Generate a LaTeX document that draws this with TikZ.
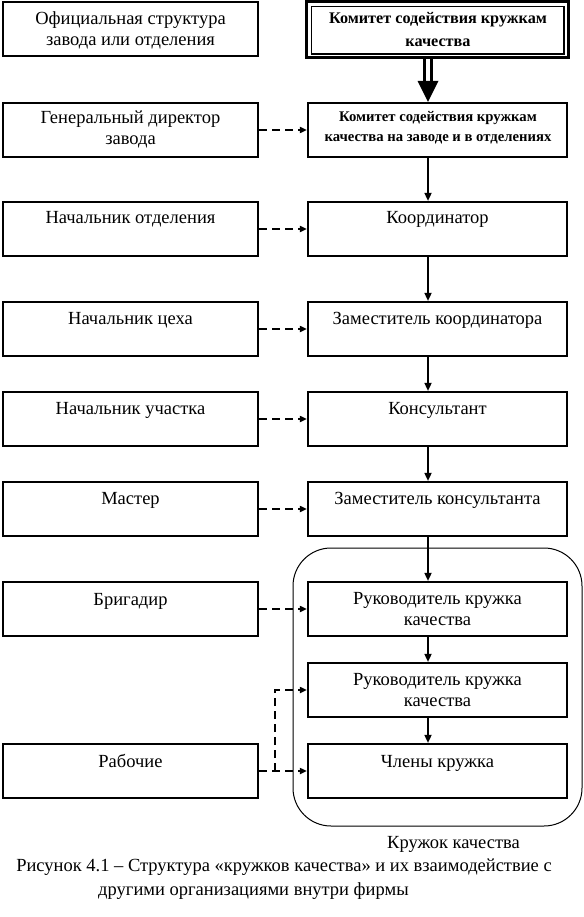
\documentclass[tikz,border=0pt]{standalone}
\usepackage{fontspec}
\setmainfont{Liberation Serif}
\usetikzlibrary{arrows.meta,calc}
\begin{document}
\begin{tikzpicture}[x=1pt,y=-1pt,
  lbox/.style={draw, line width=2.2pt, minimum width=255pt, minimum height=54pt, inner sep=0pt},
  rbox/.style={draw, line width=2.2pt, minimum width=259pt, minimum height=54pt, inner sep=0pt},
  txt/.style={anchor=base, inner sep=0pt, font=\fontsize{18.5}{21}\selectfont},
  btxtA/.style={anchor=base, inner sep=0pt, font=\fontsize{16.2}{20}\selectfont\bfseries},
  btxtB/.style={anchor=base, inner sep=0pt, font=\fontsize{14.7}{20}\selectfont\bfseries},
  sarrow/.style={line width=1.6pt, -{Triangle[length=8pt,width=7pt]}},
  darrow/.style={line width=2pt, dash pattern=on 8pt off 5pt, -{Triangle[length=7pt,width=6pt]}},
  shaft/.style={line width=2.6pt}
]
\useasboundingbox (0,0) rectangle (583,917);

% ---- left column (official structure) ----
\node[lbox] (l1) at (130.5,29) {};
\node[lbox] (l2) at (130.5,130) {};
\node[lbox] (l3) at (130.5,229) {};
\node[lbox] (l4) at (130.5,329) {};
\node[lbox] (l5) at (130.5,419) {};
\node[lbox] (l6) at (130.5,509) {};
\node[lbox] (l7) at (130.5,609) {};
\node[lbox] (l9) at (130.5,771) {};

\node[txt] (t1a) at (130.5,25) {Официальная структура};
\node[txt] (t1b) at (130.5,46) {завода или отделения};
\node[txt] (t2a) at (130.5,124) {Генеральный директор};
\node[txt] (t2b) at (130.5,145) {завода};
\node[txt] (t3) at (130.5,224) {Начальник отделения};
\node[txt] (t4) at (130.5,324) {Начальник цеха};
\node[txt] (t5) at (130.5,414) {Начальник участка};
\node[txt] (t6) at (130.5,504) {Мастер};
\node[txt] (t7) at (130.5,605) {Бригадир};
\node[txt] (t9) at (130.5,767) {Рабочие};

% ---- right column (quality circles) ----
\node[draw, line width=3pt, minimum width=262pt, minimum height=56.5pt, inner sep=0pt] (rout) at (437.5,29.75) {};
\node[draw, line width=1.5pt, minimum width=252.5pt, minimum height=47.5pt, inner sep=0pt] (rin) at (437.75,30.25) {};
\node[btxtA] (c1a) at (438,24) {Комитет содействия кружкам};
\node[btxtA] (c1b) at (438,46.5) {качества};

\node[rbox] (r2) at (437.5,130) {};
\node[btxtB] (c2a) at (438,122) {Комитет содействия кружкам};
\node[btxtB] (c2b) at (438,142) {качества на заводе и в отделениях};

\node[rbox] (r3) at (437.5,229) {};
\node[rbox] (r4) at (437.5,329) {};
\node[rbox] (r5) at (437.5,419) {};
\node[rbox] (r6) at (437.5,509) {};
\node[rbox] (r7) at (437.5,609) {};
\node[rbox] (r8) at (437.5,690) {};
\node[rbox] (r9) at (437.5,771) {};

\node[txt] (s3) at (437.5,224) {Координатор};
\node[txt] (s4) at (437.5,324) {Заместитель координатора};
\node[txt] (s5) at (437.5,414) {Консультант};
\node[txt] (s6) at (437.5,504) {Заместитель консультанта};
\node[txt] (s7a) at (437.5,604) {Руководитель кружка};
\node[txt] (s7b) at (437.5,625) {качества};
\node[txt] (s8a) at (437.5,685) {Руководитель кружка};
\node[txt] (s8b) at (437.5,706) {качества};
\node[txt] (s9) at (437.5,767) {Члены кружка};

% quality circle frame
\node[draw, line width=1pt, rounded corners=38pt, minimum width=289pt, minimum height=278pt, inner sep=0pt] (qc) at (437.5,687) {};
\node[txt] (qcl) at (453.5,848) {Кружок качества};

% caption
\node[txt] (cap1) at (284,871) {Рисунок 4.1 – Структура «кружков качества» и их взаимодействие с};
\node[txt] (cap2) at (253.5,895) {другими организациями внутри фирмы};

% ---- connectors ----
\coordinate (ax) at (428,0);
\coordinate (axl) at (424.5,0);
\coordinate (axr) at (431.5,0);
\coordinate (vx) at (275,0);

% big double arrow
\draw[shaft] (rout.south -| axl) -- ($(r2.north -| axl)+(0,-20)$);
\draw[shaft] (rout.south -| axr) -- ($(r2.north -| axr)+(0,-20)$);
\fill ($(r2.north -| ax)+(-10.5,-21)$) -- ($(r2.north -| ax)+(10.5,-21)$) -- (r2.north -| ax) -- cycle;

% solid vertical arrows
\draw[sarrow] (r2.south -| ax) -- (r3.north -| ax);
\draw[sarrow] (r3.south -| ax) -- (r4.north -| ax);
\draw[sarrow] (r4.south -| ax) -- (r5.north -| ax);
\draw[sarrow] (r5.south -| ax) -- (r6.north -| ax);
\draw[sarrow] (r6.south -| ax) -- (r7.north -| ax);
\draw[sarrow] (r7.south -| ax) -- (r8.north -| ax);
\draw[sarrow] (r8.south -| ax) -- (r9.north -| ax);

% dashed links
\draw[darrow] (l2.east) -- (r2.west);
\draw[darrow] (l3.east) -- (r3.west);
\draw[darrow] (l4.east) -- (r4.west);
\draw[darrow] (l5.east) -- (r5.west);
\draw[darrow] (l6.east) -- (r6.west);
\draw[darrow] (l7.east) -- (r7.west);
\draw[darrow] (l9.east) -- (r9.west);
\draw[darrow] (l9.east -| vx) |- (r8.west);
\end{tikzpicture}
\end{document}
